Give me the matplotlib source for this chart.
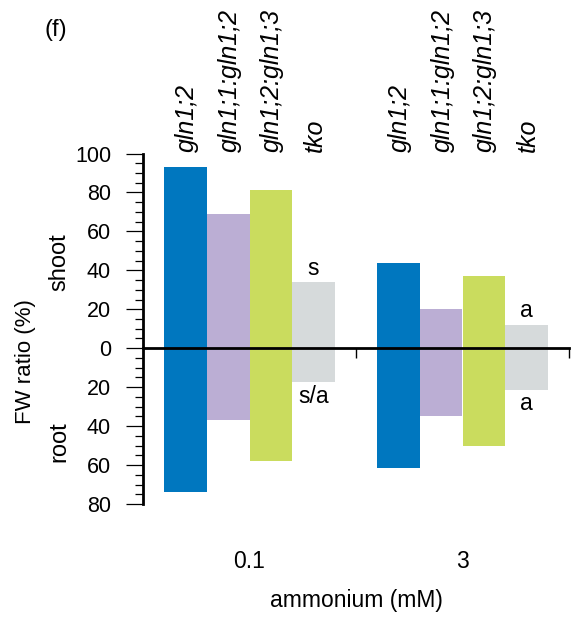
import numpy as np
import matplotlib
matplotlib.use('Agg')
import matplotlib.pyplot as plt
import matplotlib.transforms as mtransforms
from matplotlib.ticker import MultipleLocator

plt.rcParams['font.family'] = ['Liberation Sans', 'DejaVu Sans']

# data
genotypes = ['gln1;2', 'gln1;1:gln1;2', 'gln1;2:gln1;3', 'tko']
ammonium = ['0.1', '3']
shoot = {'0.1': [93, 69, 81.5, 34], '3': [44, 20, 37, 12]}
root = {'0.1': [74, 37, 58, 17.5], '3': [61.5, 35, 50, 21.5]}
letters_top = {'0.1': 's', '3': 'a'}
letters_bot = {'0.1': 's/a', '3': 'a'}
colors = ['#0077BF', '#BBAED4', '#CADC5E', '#D6DADB']

fig = plt.figure(figsize=(5.82, 6.19), dpi=100)
ax = fig.add_axes([143 / 582, 115 / 619, 426 / 582, 350.5 / 619])

bw = 0.2
for g, conc in enumerate(ammonium):
    centre = g + 0.5
    xs = centre + (np.arange(len(genotypes)) - 1.5) * bw
    ax.bar(xs, shoot[conc], width=bw, color=colors, zorder=1)
    ax.bar(xs, [-v for v in root[conc]], width=bw, color=colors, zorder=1)
    for x, lbl in zip(xs, genotypes):
        ax.annotate(lbl, (x, 100), xytext=(1, 1), textcoords='offset points',
                    rotation=90, ha='center', va='bottom', style='italic',
                    fontsize=18, annotation_clip=False)
    # significance letters over/under the tko bar
    ax.annotate(letters_top[conc], (xs[-1], shoot[conc][-1]), xytext=(0, 10),
                textcoords='offset points', ha='center', va='center', fontsize=16.5)
    ax.annotate(letters_bot[conc], (xs[-1], -root[conc][-1]), xytext=(0, -10),
                textcoords='offset points', ha='center', va='center', fontsize=16.5)

ax.set_xlim(0, 2)
ax.set_ylim(-80, 100)

for s in ['top', 'right']:
    ax.spines[s].set_visible(False)
ax.spines['left'].set_linewidth(2)
ax.spines['left'].set_bounds(-80, 100)
ax.spines['bottom'].set_position(('data', 0))
ax.spines['bottom'].set_linewidth(2)
ax.spines['bottom'].set_zorder(3)

yt = np.arange(-80, 101, 20)
ax.set_yticks(yt)
ax.set_yticklabels([str(abs(v)) for v in yt], fontsize=15.5)
ax.yaxis.set_minor_locator(MultipleLocator(5))
ax.tick_params(axis='y', which='major', length=12, width=0.9, pad=11)
ax.tick_params(axis='y', which='minor', length=6, width=0.9)
ax.set_xticks([1, 2])
ax.set_xticklabels([])
ax.tick_params(axis='x', length=7, width=1)

trans = mtransforms.blended_transform_factory(ax.transData, ax.transAxes)
for g, conc in enumerate(ammonium):
    ax.text(g + 0.5, -0.165, conc, transform=trans, ha='center', va='center', fontsize=16.5)
ax.text(1.0, -0.274, 'ammonium (mM)', transform=trans, ha='center', va='center', fontsize=16.5)

ytrans = mtransforms.blended_transform_factory(ax.transAxes, ax.transData)
ax.text((25 - 143) / 426, -7, 'FW ratio (%)', transform=ytrans, rotation=90,
        ha='center', va='center', fontsize=16)
ax.text((59 - 143) / 426, 44, 'shoot', transform=ytrans, rotation=90,
        ha='center', va='center', fontsize=17)
ax.text((59 - 143) / 426, -48, 'root', transform=ytrans, rotation=90,
        ha='center', va='center', fontsize=17)

fig.text(56 / 582, 1 - 30 / 619, '(f)', ha='center', va='center', fontsize=17)

fig.savefig('out.png', dpi=100)
